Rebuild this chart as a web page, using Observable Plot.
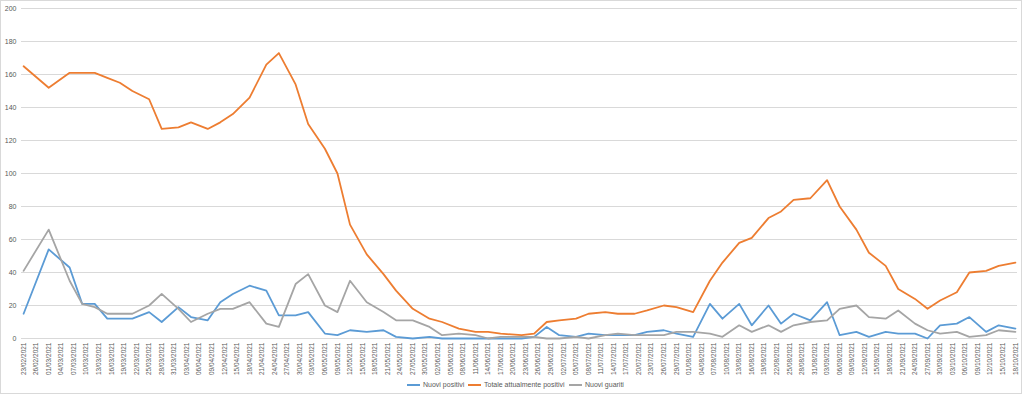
<!DOCTYPE html>
<html><head><meta charset="utf-8">
<script src="https://cdn.jsdelivr.net/npm/d3@7"></script>
<script src="https://cdn.jsdelivr.net/npm/@observablehq/plot@0.6"></script>
<style>
body{margin:0;background:#fff;font-family:"Liberation Sans",Arial,sans-serif;}
#frame{position:absolute;left:0;top:0;width:1020px;height:392px;border:1px solid #d9d9d9;pointer-events:none;}
#chart{position:absolute;left:0;top:0;}
.lg{position:absolute;top:380px;height:9px;display:flex;align-items:center;font-size:7px;color:#595959;white-space:nowrap;}
.lg span.sw{display:inline-block;width:13px;height:2px;margin-right:3px;}
</style>
</head><body>
<div id="chart"></div>
<div id="legend"></div>
<div id="frame"></div>
<script>
// ---- data ----
const dates = ["23/02/2021","01/03/2021","06/03/2021","09/03/2021","12/03/2021","15/03/2021","18/03/2021","21/03/2021","25/03/2021","28/03/2021",
"01/04/2021","04/04/2021","08/04/2021","11/04/2021","14/04/2021","18/04/2021","22/04/2021","25/04/2021","29/04/2021","02/05/2021",
"06/05/2021","09/05/2021","12/05/2021","16/05/2021","20/05/2021","23/05/2021","27/05/2021","31/05/2021","03/06/2021","07/06/2021",
"11/06/2021","14/06/2021","17/06/2021","22/06/2021","25/06/2021","28/06/2021","01/07/2021","05/07/2021","08/07/2021","12/07/2021",
"15/07/2021","19/07/2021","22/07/2021","26/07/2021","29/07/2021","02/08/2021","06/08/2021","09/08/2021","13/08/2021","16/08/2021",
"20/08/2021","23/08/2021","26/08/2021","30/08/2021","03/09/2021","06/09/2021","10/09/2021","13/09/2021","17/09/2021","20/09/2021",
"24/09/2021","27/09/2021","30/09/2021","04/10/2021","07/10/2021","11/10/2021","14/10/2021","18/10/2021"];

const nuoviPositivi = [15,54,43,21,21,12,12,12,16,10,
19,13,11,22,27,32,29,14,14,16,
3,2,5,4,5,1,0,1,0,0,
0,0,0,0,1,7,2,1,3,2,
2,2,4,5,3,1,21,12,21,8,
20,9,15,11,22,2,4,1,4,3,
3,0,8,9,13,4,8,6];

const totaleAttualmentePositivi = [165,152,161,161,161,158,155,150,145,127,
128,131,127,131,136,146,166,173,154,130,
115,100,69,51,39,29,18,12,10,6,
4,4,3,2,3,10,11,12,15,16,
15,15,17,20,19,16,35,46,58,61,
73,77,84,85,96,80,66,52,44,30,
24,18,23,28,40,41,44,46];

const nuoviGuariti = [41,66,35,21,19,15,15,15,20,27,
18,10,15,18,18,22,9,7,33,39,
20,16,35,22,16,11,11,7,2,3,
2,0,1,1,1,0,0,1,0,2,
3,2,2,2,4,4,3,1,8,4,
8,4,8,10,11,18,20,13,12,17,
9,5,3,4,1,2,5,4];

const seriesNames = ["Nuovi positivi","Totale attualmente positivi","Nuovi guariti"];
const seriesColors = ["#5B9BD5","#ED7D31","#A5A5A5"];

const tickLabels = ["23/02/2021","26/02/2021","01/03/2021","04/03/2021","07/03/2021","10/03/2021","13/03/2021","16/03/2021","19/03/2021","22/03/2021",
"25/03/2021","28/03/2021","31/03/2021","03/04/2021","06/04/2021","09/04/2021","12/04/2021","15/04/2021","18/04/2021","21/04/2021",
"24/04/2021","27/04/2021","30/04/2021","03/05/2021","06/05/2021","09/05/2021","12/05/2021","15/05/2021","18/05/2021","21/05/2021",
"24/05/2021","27/05/2021","30/05/2021","02/06/2021","05/06/2021","08/06/2021","11/06/2021","14/06/2021","17/06/2021","20/06/2021",
"23/06/2021","26/06/2021","29/06/2021","02/07/2021","05/07/2021","08/07/2021","11/07/2021","14/07/2021","17/07/2021","20/07/2021",
"23/07/2021","26/07/2021","29/07/2021","01/08/2021","04/08/2021","07/08/2021","10/08/2021","13/08/2021","16/08/2021","19/08/2021",
"22/08/2021","25/08/2021","28/08/2021","31/08/2021","03/09/2021","06/09/2021","09/09/2021","12/09/2021","15/09/2021","18/09/2021",
"21/09/2021","24/09/2021","27/09/2021","30/09/2021","03/10/2021","06/10/2021","09/10/2021","12/10/2021","15/10/2021","18/10/2021"];

const yTicks = [0,20,40,60,80,100,120,140,160,180,200];

// ---- build ----
const parse = d3.timeParse("%d/%m/%Y");
const allValues = [nuoviPositivi, totaleAttualmentePositivi, nuoviGuariti];
const long = [];
seriesNames.forEach((name, s) => {
  dates.forEach((d, i) => long.push({date: parse(d), value: allValues[s][i], series: name}));
});
const tickDates = tickLabels.map(parse);
const labelByTime = new Map(tickLabels.map(s => [+parse(s), s]));
const half = 12 * 3600 * 1000;
const t0 = tickDates[0], t1 = tickDates[tickDates.length - 1];

const chart = Plot.plot({
  width: 1024,
  height: 378,
  marginLeft: 21,
  marginRight: 7,
  marginTop: 8,
  marginBottom: 40,
  style: {fontFamily: '"Liberation Sans", Arial, sans-serif', background: "transparent", color: "#595959"},
  x: {type: "time", domain: [new Date(+t0 - half), new Date(+t1 + half)]},
  y: {domain: [0, 200]},
  color: {domain: seriesNames, range: seriesColors},
  marks: [
    Plot.gridY(yTicks, {stroke: "#d9d9d9", strokeOpacity: 1, strokeWidth: 1}),
    Plot.axisY(yTicks, {tickSize: 0, tickPadding: 5, label: null, fontSize: 7, fill: "#595959"}),
    Plot.axisX(tickDates, {tickSize: 0, tickPadding: 4, tickRotate: -90, label: null, fontSize: 6.5, fill: "#595959",
      tickFormat: d => labelByTime.get(+d)}),
    Plot.ruleY([0], {stroke: "#d9d9d9", strokeWidth: 1}),
    Plot.line(long, {x: "date", y: "value", z: "series", stroke: "series", strokeWidth: 1.8, strokeLinejoin: "round"})
  ]
});
document.getElementById("chart").appendChild(chart);

const legendLefts = [407, 468, 569];
const lg = document.getElementById("legend");
seriesNames.forEach((name, i) => {
  const d = document.createElement("div");
  d.className = "lg";
  d.style.left = legendLefts[i] + "px";
  d.innerHTML = `<span class="sw" style="background:${seriesColors[i]}"></span><span></span>`;
  d.lastChild.textContent = name;
  lg.appendChild(d);
});
</script>
</body></html>
